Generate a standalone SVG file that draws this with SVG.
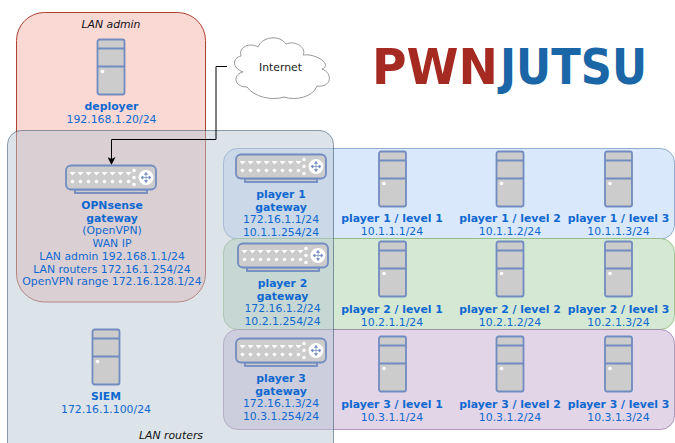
<svg xmlns="http://www.w3.org/2000/svg" xmlns:xlink="http://www.w3.org/1999/xlink" width="675" height="443" viewBox="0 0 675 443">
<style>
text{font-family:"DejaVu Sans",sans-serif;font-size:10.85px;fill:#0f68d0;text-anchor:middle}
.b{font-weight:bold}
.i{font-style:italic;fill:#111}
.zone{stroke-width:1}
.hw{fill:#ccc;stroke:#728bc0;stroke-width:1.8}
.dot{fill:#fff}
.logo{font-family:"DejaVu Sans",sans-serif;font-weight:bold;font-size:50px;text-anchor:start}
</style>
<defs>
<g id="server">
<rect class="hw" x="0" y="0" width="27" height="55" rx="2"/>
<path class="hw" d="M0 9H27M0 27H27"/>
<circle class="dot" cx="5" cy="32" r="1.8"/>
</g>
<g id="router">
<rect class="hw" x="9" y="24" width="72" height="3.500"/>
<rect class="hw" x="0" y="0" width="90" height="24" rx="5"/>
<g class="dot">
<path d="M3.500 6.500h6l-3 3.500zM11.500 6.500h6l-3 3.500zM19.500 6.500h6l-3 3.500zM27.500 6.500h6l-3 3.500zM35.500 6.500h6l-3 3.500zM43.500 6.500h6l-3 3.500zM51.500 6.500h6l-3 3.500zM59.500 6.500h6l-3 3.500z"/>
<circle cx="6.500" cy="16" r="1.800"/><circle cx="14.500" cy="16" r="1.800"/><circle cx="22.500" cy="16" r="1.800"/><circle cx="30.500" cy="16" r="1.800"/><circle cx="38.500" cy="16" r="1.800"/><circle cx="46.500" cy="16" r="1.800"/><circle cx="54.500" cy="16" r="1.800"/><circle cx="62.500" cy="16" r="1.800"/>
<circle cx="68" cy="5" r="1.800"/><circle cx="68" cy="12" r="1.800"/><circle cx="68" cy="19" r="1.800"/>
<circle cx="80" cy="12" r="7.500"/>
</g>
<path d="M75 12h10M80 7v10M75 12l2-1.500v3zM85 12l-2-1.500v3zM80 7l-1.500 2h3zM80 17l-1.500-2h3z" fill="#728bc0" stroke="#728bc0" stroke-width=".7"/>
</g>
<marker id="arrow" viewBox="0 0 8 8" refX="7" refY="4" markerWidth="8" markerHeight="8" orient="auto" markerUnits="userSpaceOnUse"><path d="M0 0L8 4L0 8L2 4z" fill="#000"/></marker>
</defs>
<rect width="675" height="443" fill="#fff"/>

<g id="zones">
<rect id="lan-admin" class="zone" x="16.500" y="12.500" width="189" height="289.500" rx="28" fill="#fad9d5" stroke="#ae4132"/>
<rect id="player1-zone" class="zone" x="223.500" y="148.500" width="451" height="90.500" rx="14" fill="#dae8fc" stroke="#6c8ebf" stroke-opacity=".7"/>
<rect id="player2-zone" class="zone" x="223.500" y="238.500" width="451" height="91" rx="14" fill="#d5e8d4" stroke="#82b366" stroke-opacity=".7"/>
<rect id="player3-zone" class="zone" x="223.500" y="329.500" width="451" height="100" rx="14" fill="#e1d5e7" stroke="#9673a6" stroke-opacity=".7"/>
<rect id="lan-routers" class="zone" x="7.500" y="130.500" width="326" height="330" rx="14" fill="#bac8d3" fill-opacity=".5" stroke="#23445d" stroke-opacity=".5"/>
</g>

<g id="connectors">
<path d="M227 66.500H216V139.500H111.500V164" fill="none" stroke="#000" stroke-width="1" marker-end="url(#arrow)"/>
</g>

<g id="label-lan-admin"><text class="i" x="111" y="28">LAN admin</text></g>
<g id="label-lan-routers"><text class="i" x="171" y="439">LAN routers</text></g>

<g id="internet">
<path d="M247 87C233 87 233 74 243 72C232 68 232 58 241 56C238 47 250 42 258 47C262 37 279 34 286 44C296 40 307 48 303 55C316 53 333 65 322 69C333 73 332 88 317 86C313 97 296 101 284 97C272 101 254 97 247 87Z" fill="#fff" stroke="#999" stroke-width="1"/>
<text x="280.500" y="71" style="fill:#222">Internet</text>
</g>

<g id="logo">
<text class="logo" x="372" y="84" textLength="126" lengthAdjust="spacingAndGlyphs" style="fill:#a52a22">PWN</text>
<text class="logo" x="500" y="84" textLength="147" lengthAdjust="spacingAndGlyphs" style="fill:#1a66a6">JUTSU</text>
</g>

<g id="deployer"><use xlink:href="#server" href="#server" x="97.500" y="39.500"/><text class="b" x="111.500" y="110">deployer</text><text x="111.500" y="122.500">192.168.1.20/24</text></g>

<g id="opnsense"><use xlink:href="#router" href="#router" x="66" y="165.500"/>
<text class="b" x="112" y="209">OPNsense</text><text class="b" x="112" y="221.500">gateway</text><text x="112" y="234">(OpenVPN)</text><text x="112" y="247">WAN IP</text><text x="112" y="259.500">LAN admin 192.168.1.1/24</text><text x="112" y="272.500">LAN routers 172.16.1.254/24</text><text x="112" y="285">OpenVPN range 172.16.128.1/24</text></g>

<g id="siem"><use xlink:href="#server" href="#server" x="92.500" y="329.500"/><text class="b" x="106" y="400">SIEM</text><text x="106" y="412.500">172.16.1.100/24</text></g>

<g id="p1gw"><use xlink:href="#router" href="#router" x="236" y="154.500"/><text class="b" x="281" y="198">player 1</text><text class="b" x="281" y="210.500">gateway</text><text x="281" y="223">172.16.1.1/24</text><text x="281" y="236">10.1.1.254/24</text></g>
<g id="p2gw"><use xlink:href="#router" href="#router" x="238" y="243.500"/><text class="b" x="282.500" y="287">player 2</text><text class="b" x="282.500" y="299.500">gateway</text><text x="282.500" y="312">172.16.1.2/24</text><text x="282.500" y="325">10.2.1.254/24</text></g>
<g id="p3gw"><use xlink:href="#router" href="#router" x="236" y="338.500"/><text class="b" x="281" y="382">player 3</text><text class="b" x="281" y="394.500">gateway</text><text x="281" y="407">172.16.1.3/24</text><text x="281" y="420">10.3.1.254/24</text></g>

<g id="p1l1"><use xlink:href="#server" href="#server" x="379" y="151.500"/><text class="b" x="392" y="222">player 1 / level 1</text><text x="392" y="235">10.1.1.1/24</text></g>
<g id="p1l2"><use xlink:href="#server" href="#server" x="496.500" y="151.500"/><text class="b" x="510" y="222">player 1 / level 2</text><text x="510" y="235">10.1.1.2/24</text></g>
<g id="p1l3"><use xlink:href="#server" href="#server" x="605" y="151.500"/><text class="b" x="618.500" y="222">player 1 / level 3</text><text x="618.500" y="235">10.1.1.3/24</text></g>

<g id="p2l1"><use xlink:href="#server" href="#server" x="379" y="241.500"/><text class="b" x="392" y="313">player 2 / level 1</text><text x="392" y="326">10.2.1.1/24</text></g>
<g id="p2l2"><use xlink:href="#server" href="#server" x="496.500" y="241.500"/><text class="b" x="510" y="313">player 2 / level 2</text><text x="510" y="326">10.2.1.2/24</text></g>
<g id="p2l3"><use xlink:href="#server" href="#server" x="605" y="241.500"/><text class="b" x="618.500" y="313">player 2 / level 3</text><text x="618.500" y="326">10.2.1.3/24</text></g>

<g id="p3l1"><use xlink:href="#server" href="#server" x="379" y="336.500"/><text class="b" x="392" y="408">player 3 / level 1</text><text x="392" y="421">10.3.1.1/24</text></g>
<g id="p3l2"><use xlink:href="#server" href="#server" x="496.500" y="336.500"/><text class="b" x="510" y="408">player 3 / level 2</text><text x="510" y="421">10.3.1.2/24</text></g>
<g id="p3l3"><use xlink:href="#server" href="#server" x="605" y="336.500"/><text class="b" x="618.500" y="408">player 3 / level 3</text><text x="618.500" y="421">10.3.1.3/24</text></g>
</svg>
